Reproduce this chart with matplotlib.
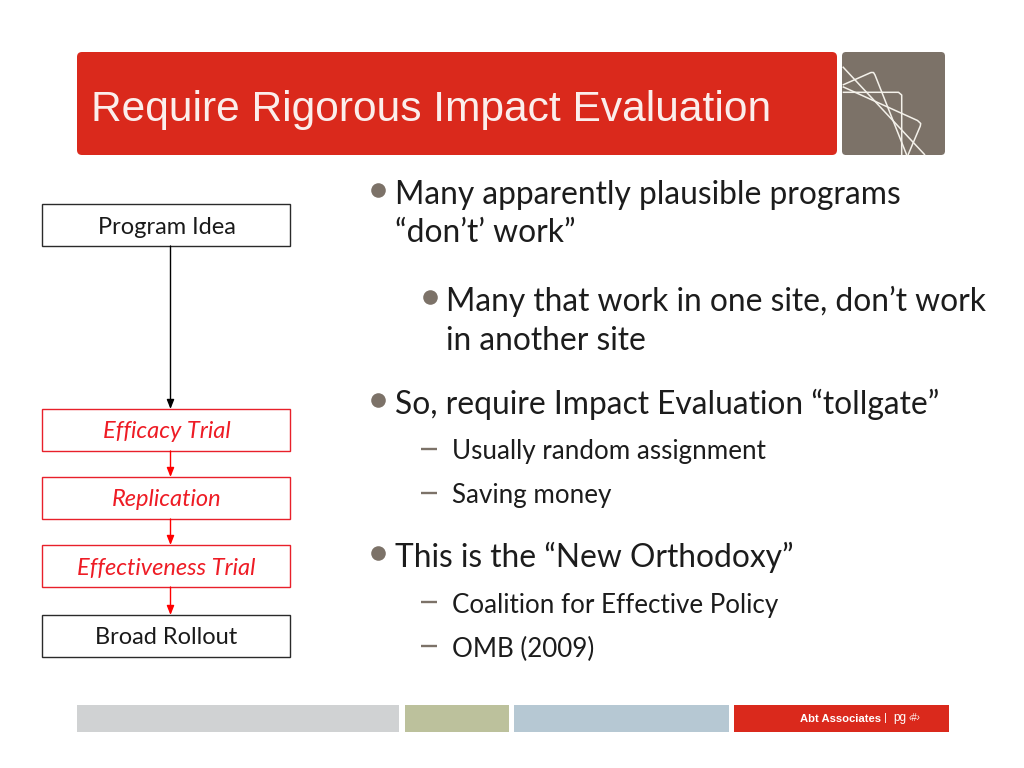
import matplotlib
matplotlib.use("Agg")
import matplotlib.pyplot as plt
from matplotlib.patches import FancyBboxPatch, Rectangle

title = "Require Rigorous Impact Evaluation"
flow_labels = ["Program Idea", "Efficacy Trial", "Replication", "Effectiveness Trial", "Broad Rollout"]
flow_highlight = [False, True, True, True, False]
flow_tops = [204, 409, 477, 545, 615]
bullets = [
    (371, 395, 192, "Many apparently plausible programs", 1, True),
    (None, 395, 231, "\u201cdon\u2019t\u2019 work\u201d", 1, False),
    (423, 446, 299, "Many that work in one site, don\u2019t work", 1, True),
    (None, 446, 338, "in another site", 1, False),
    (371, 395, 402, "So, require Impact Evaluation \u201ctollgate\u201d", 1, True),
    (421, 452, 450, "Usually random assignment", 2, True),
    (421, 452, 494, "Saving money", 2, True),
    (371, 395, 555, "This is the \u201cNew Orthodoxy\u201d", 1, True),
    (421, 452, 603, "Coalition for Effective Policy", 2, True),
    (421, 452, 647, "OMB (2009)", 2, True),
]
footer_blocks = [(77, 322, "#d0d2d3"), (405, 104, "#bcc19c"), (514, 215, "#b6c8d3"), (734, 215, "#da291c")]

RED = "#da291c"
GREY = "#7c7268"
FONT = "Lato"

fig = plt.figure(figsize=(10.24, 7.68), dpi=100)
ax = fig.add_axes([0, 0, 1, 1])
ax.set_xlim(0, 1024)
ax.set_ylim(768, 0)
ax.axis("off")

# header band and logo tile
ax.add_patch(FancyBboxPatch((80, 55), 754, 97, boxstyle="round,pad=3,rounding_size=5", fc=RED, ec="none"))
ax.add_patch(FancyBboxPatch((845, 55), 97, 97, boxstyle="round,pad=3,rounding_size=4", fc=GREY, ec="none"))
ax.text(91, 105, title, color="#fbeeec", fontsize=30.65, family="Liberation Sans", va="center_baseline", ha="left")

logo_paths = [
    ([842.7, 925], [66.7, 155]),
    ([842.7, 871, 873.5, 875, 906.7], [85, 72.5, 72.5, 75, 155]),
    ([842.7, 898.5, 901.7, 901.7], [92.3, 92.3, 95, 155]),
    ([842.7, 917.5, 920.7, 920.3, 908], [86.7, 120.5, 123.5, 126, 155]),
]
for xs, ys in logo_paths:
    ax.plot(xs, ys, color="#f4f1ea", lw=1.1, solid_capstyle="butt")

# flow boxes
box_x, box_w, box_h = 42, 248, 42
for lab, top, hi in zip(flow_labels, flow_tops, flow_highlight):
    col = "#e8202a" if hi else "#2a2a2a"
    ax.add_patch(Rectangle((box_x, top), box_w, box_h, fc="white", ec=col, lw=1.0))
    ax.text(166.5, top + box_h / 2, lab, color="#ee1c25" if hi else "#1a1a1a", fontsize=17,
            family=FONT, style="italic" if hi else "normal", ha="center", va="center_baseline")

# connectors
for i in range(len(flow_tops) - 1):
    start, end = flow_tops[i] + box_h, flow_tops[i + 1]
    col = "red" if i > 0 else "black"
    ax.annotate("", xy=(170.5, end), xytext=(170.5, start),
                arrowprops=dict(arrowstyle="-|>,head_width=0.22,head_length=0.55", color=col, lw=1.0,
                                shrinkA=0, shrinkB=0))

# bullet text
for bx, tx, y, text, lvl, mark in bullets:
    if lvl == 1:
        ax.text(tx, y - 0.5, text, fontsize=22.85, family=FONT, color="#1c1c1c", va="center_baseline", ha="left")
        if mark:
            ax.plot(bx + 7, y - 2, "o", ms=10.5, color=GREY, mec="none")
    else:
        ax.text(tx, y - 0.5, text, fontsize=18.7, family=FONT, color="#1c1c1c", va="center_baseline", ha="left")
        if mark:
            ax.plot([bx, bx + 16], [y - 1, y - 1], color=GREY, lw=1.7, solid_capstyle="butt")

# footer
for x, w, c in footer_blocks:
    ax.add_patch(Rectangle((x, 705), w, 26.5, fc=c, ec="none"))
ax.text(881, 719, "Abt Associates", color="white", fontsize=8.1, fontweight="bold",
        family="Liberation Sans", va="center", ha="right")
ax.text(885.5, 718, "|", color="white", fontsize=8, family="Liberation Sans", va="center", ha="center")
ax.text(893, 718, "pg", color="white", fontsize=8.5, family="Liberation Sans", va="center", ha="left")
ax.text(909, 718, "\u2039#\u203a", color="white", fontsize=7, family="Liberation Sans", style="italic", va="center", ha="left")

fig.savefig("out.png", dpi=100)
